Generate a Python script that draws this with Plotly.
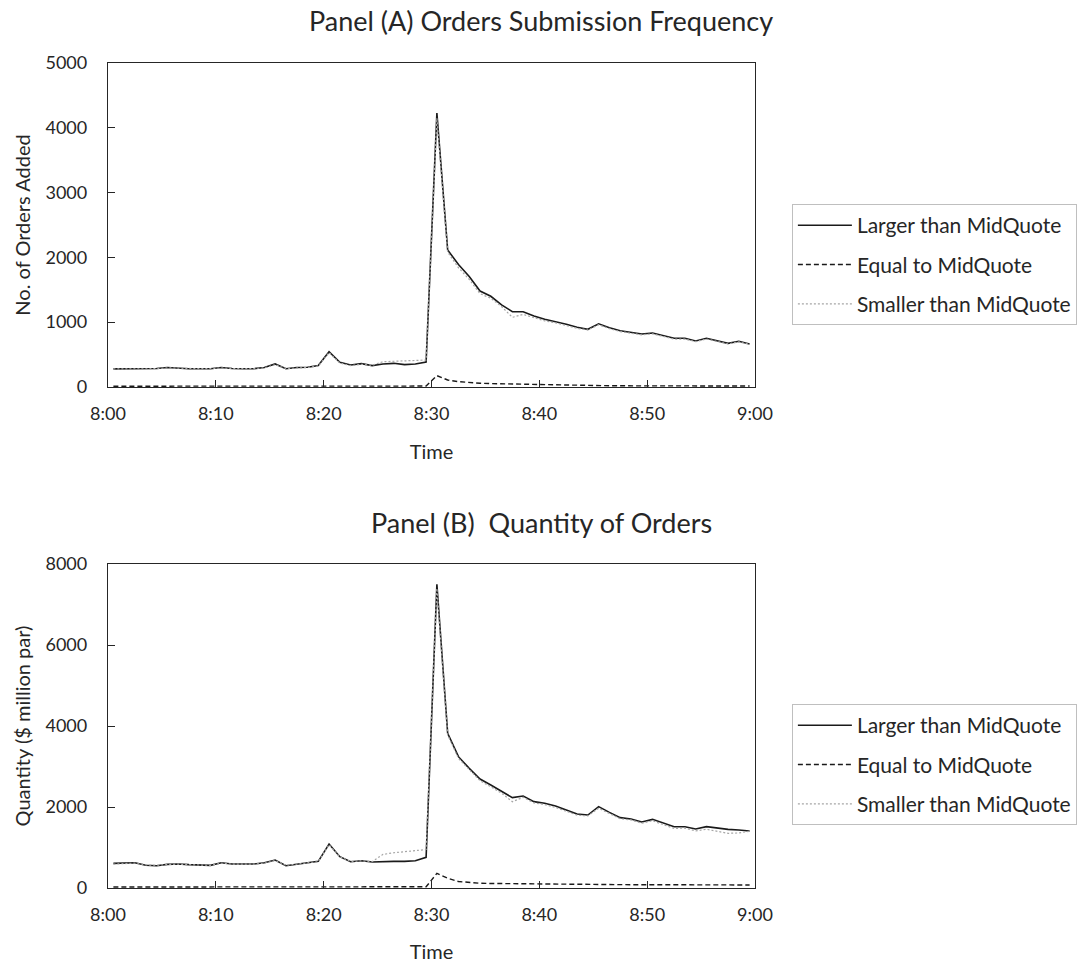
import numpy as np
import plotly.graph_objects as go

# Minute of the 8:00-9:00 hour (each value is a one-minute bin)
minute = np.arange(60)

# Panel (A): number of orders added per minute
orders_larger = [280, 280, 280, 280, 285, 300, 290, 282, 282, 282,
                 300, 285, 282, 282, 300, 355, 282, 300, 305, 330,
                 545, 380, 340, 360, 330, 355, 365, 345, 355, 385,
                 4228, 2114, 1890, 1705, 1480, 1400, 1266, 1163, 1160, 1096,
                 1045, 1008, 967, 921, 890, 975, 915, 869, 843, 818,
                 833, 797, 751, 751, 710, 751, 710, 674, 705, 664]
orders_equal = [12, 12, 12, 12, 12, 12, 12, 12, 12, 12,
                12, 12, 12, 12, 12, 12, 12, 12, 12, 12,
                14, 12, 12, 12, 12, 12, 12, 12, 12, 14,
                175, 108, 82, 67, 58, 52, 48, 45, 42, 40,
                38, 30, 25, 22, 20, 20, 19, 18, 18, 17,
                17, 16, 16, 16, 15, 15, 15, 15, 15, 15]
orders_smaller = [280, 280, 280, 280, 282, 295, 288, 282, 282, 282,
                  295, 285, 282, 282, 295, 345, 285, 298, 300, 325,
                  530, 370, 330, 350, 335, 390, 395, 400, 410, 416,
                  4150, 2080, 1840, 1660, 1440, 1370, 1240, 1075, 1120, 1070,
                  1020, 990, 950, 905, 880, 960, 900, 855, 830, 805,
                  820, 785, 740, 740, 700, 740, 700, 665, 695, 660]

# Panel (B): quantity of orders ($ million par) per minute
qty_larger = [609, 625, 625, 560, 551, 584, 592, 576, 560, 560,
              625, 592, 592, 592, 625, 691, 551, 592, 625, 658,
              1086, 774, 650, 674, 642, 658, 658, 658, 674, 757,
              7500, 3819, 3243, 2955, 2691, 2543, 2379, 2231, 2272, 2132,
              2091, 2025, 1926, 1827, 1802, 2009, 1868, 1737, 1704, 1630,
              1695, 1613, 1514, 1514, 1457, 1514, 1473, 1448, 1432, 1407]
qty_equal = [25, 25, 25, 25, 25, 25, 25, 25, 25, 25,
             25, 25, 25, 25, 25, 25, 25, 25, 25, 25,
             28, 25, 25, 25, 25, 25, 25, 25, 25, 30,
             362, 240, 160, 133, 118, 112, 108, 105, 102, 100,
             95, 92, 90, 88, 86, 85, 84, 83, 82, 81,
             80, 79, 78, 78, 77, 77, 76, 76, 75, 75]
qty_smaller = [590, 610, 615, 570, 560, 580, 590, 575, 565, 560,
               615, 590, 590, 590, 615, 680, 560, 590, 615, 650,
               1070, 770, 655, 670, 650, 830, 870, 900, 920, 950,
               7400, 3780, 3200, 2920, 2650, 2500, 2340, 2130, 2240, 2100,
               2060, 1990, 1890, 1800, 1780, 1970, 1840, 1710, 1680, 1600,
               1660, 1570, 1470, 1480, 1410, 1450, 1400, 1350, 1360, 1400]

tick_minutes = [0, 10, 20, 30, 40, 50, 60]
tick_labels = ["8:00", "8:10", "8:20", "8:30", "8:40", "8:50", "9:00"]

series_names = ["Larger than MidQuote", "Equal to MidQuote", "Smaller than MidQuote"]
series_lines = [
    dict(color="#1a1a1a", width=1.6),
    dict(color="#1a1a1a", width=1.4, dash="5px,3px"),
    dict(color="#a6a6a6", width=1.2, dash="2px,2px"),
]

FONT = "Lato, Open Sans, sans-serif"
TEXT = "#262626"

# bin centres on the time axis
x_pos = minute + 0.5

fig = go.Figure()

panels = [
    ("x", "y", "legend", "A", [orders_larger, orders_equal, orders_smaller]),
    ("x2", "y2", "legend2", "B", [qty_larger, qty_equal, qty_smaller]),
]
for xa, ya, leg, tag, values in panels:
    for name, line, y in zip(series_names, series_lines, values):
        fig.add_trace(go.Scatter(
            x=x_pos, y=y, mode="lines", name=name, line=line,
            xaxis=xa, yaxis=ya, legend=leg, legendgroup=tag + name,
            hoverinfo="skip",
        ))

axis_common = dict(
    showline=True, linecolor="#262626", linewidth=1.3, mirror=True,
    showgrid=False, zeroline=False, ticks="inside", ticklen=7,
    tickcolor="#262626", tickwidth=1.3, automargin=False,
    tickfont=dict(family=FONT, size=18, color=TEXT),
)
x_common = dict(axis_common, range=[0, 60], tickmode="array",
                tickvals=tick_minutes, ticktext=tick_labels,
                ticklabelstandoff=10,
                title=dict(text="Time", standoff=22,
                           font=dict(family=FONT, size=20, color=TEXT)))

legend_common = dict(
    xanchor="left", yanchor="top", x=1.057,
    bordercolor="#bfbfbf", borderwidth=1, bgcolor="white",
    font=dict(family=FONT, size=21, color=TEXT),
    traceorder="grouped", tracegroupgap=9, itemwidth=54,
)

fig.update_layout(
    width=1083, height=963,
    margin=dict(l=108, r=328, t=63, b=75, autoexpand=False),
    paper_bgcolor="white", plot_bgcolor="white",
    font=dict(family=FONT, color=TEXT),
    xaxis=dict(x_common, domain=[0, 1], anchor="y"),
    yaxis=dict(axis_common, domain=[0.6073, 1], anchor="x", range=[0, 5000],
               tickvals=[0, 1000, 2000, 3000, 4000, 5000],
               ticklabelstandoff=16,
               title=dict(text="No. of Orders Added", standoff=9,
                          font=dict(family=FONT, size=20, color=TEXT))),
    xaxis2=dict(x_common, domain=[0, 1], anchor="y2"),
    yaxis2=dict(axis_common, domain=[0, 0.3927], anchor="x2", range=[0, 8000],
                tickvals=[0, 2000, 4000, 6000, 8000],
                ticklabelstandoff=16,
                title=dict(text="Quantity ($ million par)", standoff=9,
                           font=dict(family=FONT, size=20, color=TEXT))),
    legend=dict(legend_common, y=0.829),
    legend2=dict(legend_common, y=0.223),
    showlegend=True,
    annotations=[
        dict(text="Panel (A) Orders Submission Frequency", xref="paper", yref="paper",
             x=0.67, y=1.052, xanchor="center", yanchor="middle", showarrow=False,
             font=dict(family=FONT, size=27, color=TEXT)),
        dict(text="Panel (B)  Quantity of Orders", xref="paper", yref="paper",
             x=0.67, y=0.4436, xanchor="center", yanchor="middle", showarrow=False,
             font=dict(family=FONT, size=27, color=TEXT)),
    ],
)

fig.write_html("out.html")
